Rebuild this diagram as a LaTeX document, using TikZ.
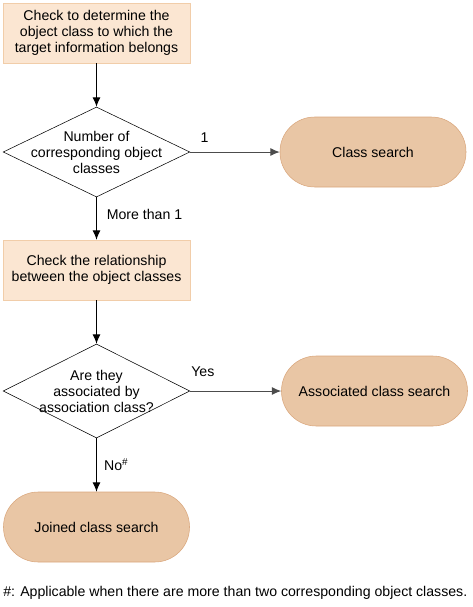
\documentclass[tikz,border=0pt]{standalone}
\usepackage{fontspec}
\setmainfont{Liberation Sans}
\usetikzlibrary{shapes.geometric,arrows.meta}
\definecolor{stepfill}{HTML}{FBE6D2}
\definecolor{stepline}{HTML}{F1CDA9}
\definecolor{endfill}{HTML}{E9C6A5}
\definecolor{endline}{HTML}{D9A67C}
\begin{document}
\begin{tikzpicture}
  [x=0.75pt,y=-0.75pt,font=\fontsize{10.6}{12}\selectfont,
   stepbox/.style={rectangle, draw=stepline, fill=stepfill, align=center,
     minimum width=140pt, minimum height=45pt, inner sep=0pt},
   decide/.style={diamond, draw=black, fill=white, align=center, aspect=2.07,
     inner xsep=0pt, inner ysep=-7pt, minimum width=140pt, minimum height=67.5pt},
   pill/.style={rectangle, rounded corners=26pt, draw=endline, fill=endfill,
     minimum width=139.5pt, minimum height=52.5pt},
   flow/.style={draw=black, line width=0.75pt, -{Latex[length=7pt,width=6pt]}}]
  \useasboundingbox (0,0) rectangle (472,607);

  \node[stepbox] (check) at (96.5,33) {Check to determine the\\object class to which the\\target information belongs};
  \node[decide] (number) at (96.5,152) {Number of\\corresponding object\\classes};
  \node[pill] (cls) at (373,152) {Class search};
  \node[stepbox] (relation) at (96.5,270) {Check the relationship\\between the object classes};
  \node[decide, minimum height=70.5pt] (assoc) at (96.5,391) {Are they\\associated by\\association class?};
  \node[pill] (acls) at (374.5,391) {Associated class search};
  \node[pill] (jcls) at (96.5,527) {Joined class search};

  \foreach \from/\to in {check/number, relation/assoc}
    \draw[flow] (\from) -- (\to);

  \draw[flow, draw=black!70] (number) -- node[above=3.5pt, pos=0.16, text=black] {1} (cls);
  \draw[flow] (number) -- node[right, xshift=4pt, pos=0.4] {More than 1} (relation);
  \draw[flow, draw=black!70] (assoc) -- node[above=7pt, pos=0.14, text=black] {Yes} (acls);
  \draw[flow] (assoc) -- node[right, xshift=2pt] {No$^{\#}$} (jcls);

  \node[anchor=west, inner sep=0pt] (note) at (3,593) {\#: Applicable when there are more than two corresponding object classes.};
\end{tikzpicture}
\end{document}
